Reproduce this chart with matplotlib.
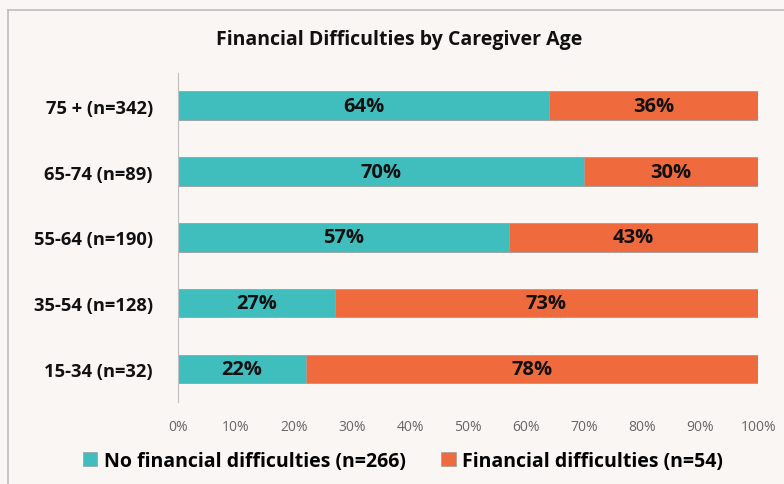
import matplotlib.pyplot as plt
from matplotlib.lines import Line2D
from matplotlib.patches import Patch
import numpy as np

plt.rcParams['font.family'] = ['Open Sans', 'DejaVu Sans']

groups = ['15-34 (n=32)', '35-54 (n=128)', '55-64 (n=190)', '65-74 (n=89)', '75 + (n=342)']
no_diff = [22, 27, 57, 70, 64]
diff = [78, 73, 43, 30, 36]
series_names = ['No financial difficulties (n=266)', 'Financial difficulties (n=54)']
title = 'Financial Difficulties by Caregiver Age'

teal = '#40BEBE'
orange = '#EF6A3C'
bg = '#FAF6F3'

fig = plt.figure(figsize=(7.84, 4.85), dpi=100, facecolor=bg)
ax = fig.add_axes([0.227, 0.169, 0.74, 0.679])
ax.set_facecolor(bg)

# outer box border (cut off at right and bottom)
fig.add_artist(Line2D([8 / 784, 8 / 784], [0, 1 - 11 / 485], color='#BDBDBD', lw=1.2))
fig.add_artist(Line2D([8 / 784, 1], [1 - 11 / 485, 1 - 11 / 485], color='#BDBDBD', lw=1.2))

y = np.arange(len(groups))
ax.barh(y, no_diff, height=0.43, color=teal, edgecolor='#9E9E9E', linewidth=0.6)
ax.barh(y, diff, left=no_diff, height=0.43, color=orange, edgecolor='#9E9E9E', linewidth=0.6)

for i in range(len(groups)):
    ax.text(no_diff[i] / 2, y[i], f'{no_diff[i]}%', ha='center', va='center',
            fontsize=14.5, fontweight='bold', color='#111111')
    ax.text(no_diff[i] + diff[i] / 2, y[i], f'{diff[i]}%', ha='center', va='center',
            fontsize=14.5, fontweight='bold', color='#111111')

ax.set_xlim(0, 100)
ax.set_ylim(-0.5, len(groups) - 0.5)
ax.set_yticks(y)
ax.set_yticklabels(groups, fontsize=13.2, fontweight='bold', color='#111111')
ax.set_xticks(np.arange(0, 101, 10))
ax.set_xticklabels([f'{t}%' for t in range(0, 101, 10)], fontsize=10, color='#666666')
ax.tick_params(axis='both', length=0)
ax.tick_params(axis='y', pad=18)
ax.tick_params(axis='x', pad=12)
for s in ['top', 'right', 'bottom']:
    ax.spines[s].set_visible(False)
ax.spines['left'].set_color('#BFBFBF')

fig.text(0.509, 1 - 40 / 485, title, ha='center', va='center', fontsize=14,
         fontweight='bold', color='#111111')

handles = [Patch(facecolor=teal, edgecolor='#9E9E9E', linewidth=0.5),
           Patch(facecolor=orange, edgecolor='#9E9E9E', linewidth=0.5)]
fig.legend(handles, series_names, loc='center', bbox_to_anchor=(0.514, 1 - 462 / 485),
           ncol=2, frameon=False, prop={'size': 14, 'weight': 'bold'},
           handlelength=0.75, handleheight=0.75, handletextpad=0.35, columnspacing=1.8)

fig.savefig('out.png', dpi=100, facecolor=bg)
